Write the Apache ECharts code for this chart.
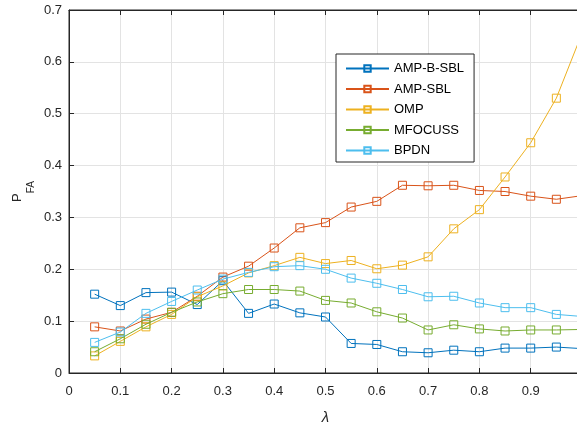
<!DOCTYPE html>
<html>
<head>
<meta charset="utf-8">
<script src="https://cdn.jsdelivr.net/npm/echarts@6/dist/echarts.min.js"></script>
<style>html,body{margin:0;padding:0;background:#fff;}#c{width:577px;height:425px;}</style>
</head>
<body>
<div id="c"></div>
<script>
const lambda = [0.05,0.1,0.15,0.2,0.25,0.3,0.35,0.4,0.45,0.5,0.55,0.6,0.65,0.7,0.75,0.8,0.85,0.9,0.95,1.0];
const seriesNames = ['AMP-B-SBL','AMP-SBL','OMP','MFOCUSS','BPDN'];
const ampBSBL = [0.152,0.130,0.155,0.156,0.132,0.178,0.115,0.133,0.116,0.108,0.057,0.055,0.041,0.039,0.044,0.041,0.048,0.048,0.050,0.047];
const ampSBL  = [0.089,0.081,0.104,0.117,0.148,0.185,0.206,0.241,0.280,0.290,0.320,0.331,0.362,0.361,0.362,0.352,0.350,0.341,0.335,0.342];
const omp     = [0.033,0.061,0.089,0.113,0.147,0.168,0.193,0.207,0.223,0.211,0.217,0.201,0.208,0.224,0.278,0.315,0.378,0.444,0.530,0.655];
const mfocuss = [0.041,0.066,0.094,0.117,0.137,0.153,0.161,0.161,0.158,0.140,0.135,0.118,0.106,0.083,0.093,0.085,0.081,0.083,0.083,0.084];
const bpdn    = [0.059,0.079,0.115,0.138,0.160,0.181,0.194,0.205,0.207,0.200,0.183,0.173,0.161,0.147,0.148,0.135,0.126,0.126,0.113,0.109];
const xTicks = [0,0.1,0.2,0.3,0.4,0.5,0.6,0.7,0.8,0.9];
const yTicks = [0,0.1,0.2,0.3,0.4,0.5,0.6,0.7];

const colors = ['#0072BD','#D95319','#EDB120','#77AC30','#4DBEEE'];
const allData = [ampBSBL, ampSBL, omp, mfocuss, bpdn];
const font = 'Liberation Sans, Arial, Helvetica, sans-serif';
const axisColor = '#262626';

const chart = echarts.init(document.getElementById('c'), null, {renderer:'canvas'});
const series = seriesNames.map((n,i)=>({
  name: n,
  type: 'line',
  data: lambda.map((x,k)=>[x, allData[i][k]]),
  symbol: 'rect',
  symbolSize: 8,
  showAllSymbol: true,
  lineStyle: {color: colors[i], width: 1},
  itemStyle: {color: 'rgba(255,255,255,0)', borderColor: colors[i], borderWidth: 1},
  emphasis: {disabled: true},
  animation: false,
  z: 2 + i
}));

chart.setOption({
  animation: false,
  backgroundColor: '#fff',
  grid: {left: 69, top: 10, width: 513, height: 363, outerBoundsMode: 'none', show: true, borderColor: axisColor, borderWidth: 1, containLabel: false},
  legend: {
    data: seriesNames,
    orient: 'vertical',
    left: 336, top: 54,
    padding: [7, 10, 4, 9],
    itemGap: 5.5,
    itemWidth: 43,
    itemHeight: 8,
    backgroundColor: '#fff',
    borderColor: axisColor,
    borderWidth: 1,
    textStyle: {fontFamily: font, fontSize: 13, color: '#000', lineHeight: 15, padding: [0,0,0,0]}
  },
  xAxis: [{
    type: 'value', min: 0, max: 1, interval: 0.1,
    name: 'λ', nameLocation: 'middle', nameGap: 37, nameMoveOverlap: false,
    nameTextStyle: {fontFamily: font, fontSize: 15, fontStyle: 'italic', color: axisColor},
    axisLine: {show: true, lineStyle: {color: axisColor, width: 1}},
    axisTick: {show: true, inside: true, length: 5, lineStyle: {color: axisColor}},
    axisLabel: {margin: 12, fontFamily: font, fontSize: 13, color: axisColor,
      formatter: v => (xTicks.some(t => Math.abs(t - v) < 1e-9) ? String(+v.toFixed(1)) : '')},
    splitLine: {show: true, lineStyle: {color: '#e3e3e3', width: 1}}
  },{
    type: 'value', position: 'top', min: 0, max: 1, interval: 0.1,
    axisLine: {show: true, lineStyle: {color: axisColor, width: 1}},
    axisTick: {show: true, inside: true, length: 5, lineStyle: {color: axisColor}},
    axisLabel: {show: false}, splitLine: {show: false}
  }],
  yAxis: [{
    type: 'value', min: 0, max: 0.7, interval: 0.1,
    name: '{a|P}{b|FA}', nameLocation: 'middle', nameGap: 33, nameRotate: 90, nameMoveOverlap: false,
    nameTextStyle: {
      color: axisColor,
      rich: {
        a: {fontFamily: font, fontSize: 13, color: axisColor, lineHeight: 14, verticalAlign: 'top'},
        b: {fontFamily: font, fontSize: 10, color: axisColor, lineHeight: 25, verticalAlign: 'bottom'}
      }
    },
    axisLine: {show: true, lineStyle: {color: axisColor, width: 1}},
    axisTick: {show: true, inside: true, length: 5, lineStyle: {color: axisColor}},
    axisLabel: {margin: 7, fontFamily: font, fontSize: 13, color: axisColor,
      formatter: v => (yTicks.some(t => Math.abs(t - v) < 1e-9) ? String(+v.toFixed(1)) : '')},
    splitLine: {show: true, lineStyle: {color: '#e3e3e3', width: 1}}
  }],
  series: series
});
</script>
</body>
</html>
